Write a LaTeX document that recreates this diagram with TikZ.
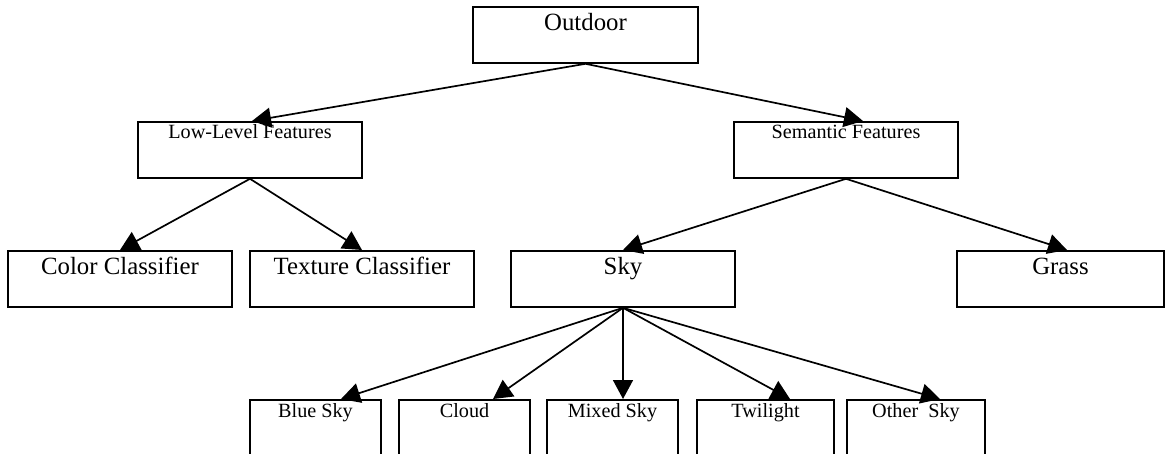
\documentclass[tikz,border=0pt]{standalone}
\usepackage{fontspec}
\setmainfont{Liberation Serif}
\usepackage{tikz}
\usetikzlibrary{arrows.meta}
\tikzset{
class box/.style = { rectangle, draw = black, fill = white, line width = 0.9pt, minimum width = 112pt, minimum height = 28pt, inner sep = 0pt, anchor = north },
leaf box/.style = { class box, minimum width = #1, minimum height = 34pt },
big title/.style = { label = {[anchor = base, yshift = -12.5pt, font = \fontsize{12.4}{14}\selectfont]north:#1} },
small title/.style = { label = {[anchor = base, yshift = -9pt, font = \fontsize{10.1}{12}\selectfont]north:#1} },
link/.style = { draw = black, line width = 0.85pt, -{Triangle[length = 9.5pt, width = 10pt]} },
}

\begin{document}
\begin{tikzpicture}[x = 0.5pt, y = -0.5pt]
    \useasboundingbox (0, 0) rectangle (1172, 454);
    % upper levels
    \node[class box, minimum width = 112.5pt, big title = Outdoor] (outdoor) at (585.5, 6) {};
    \node[class box, small title = Low-Level Features] (lowlevel) at (250, 121) {};
    \node[class box, small title = Semantic Features] (semantic) at (846, 121) {};
    \node[class box, big title = Color Classifier] (color) at (120, 250) {};
    \node[class box, big title = Texture Classifier] (texture) at (362, 250) {};
    \node[class box, big title = Sky] (sky) at (623, 250) {};
    \node[class box, minimum width = 103.5pt, big title = Grass] (grass) at (1060.5, 250) {};
    % sky classes
    \node[leaf box = 65.5pt, small title = Blue Sky] (bluesky) at (315.5, 399) {};
    \node[leaf box = 65.5pt, small title = Cloud] (cloud) at (464.5, 399) {};
    \node[leaf box = 65.5pt, small title = Mixed Sky] (mixedsky) at (612.5, 399) {};
    \node[leaf box = 68.5pt, small title = Twilight] (twilight) at (765.5, 399) {};
    \node[leaf box = 69pt, small title = Other\ \ Sky] (othersky) at (916, 399) {};
    \draw[link] (outdoor.south) -- ([xshift = 1pt]lowlevel.north);
    \draw[link] (outdoor.south) -- ([xshift = 8.5pt]semantic.north);
    \draw[link] (lowlevel.south) -- (color.north);
    \draw[link] (lowlevel.south) -- (texture.north);
    \draw[link] (semantic.south) -- (sky.north);
    \draw[link] (semantic.south) -- ([xshift = 3.25pt]grass.north);
    \foreach \leafname/\dx in {bluesky/12.75pt, cloud/14.25pt, mixedsky/5.25pt, twilight/12.25pt, othersky/12pt}
        \draw[link] (sky.south) -- ([xshift = \dx]\leafname.north);
\end{tikzpicture}
\end{document}
